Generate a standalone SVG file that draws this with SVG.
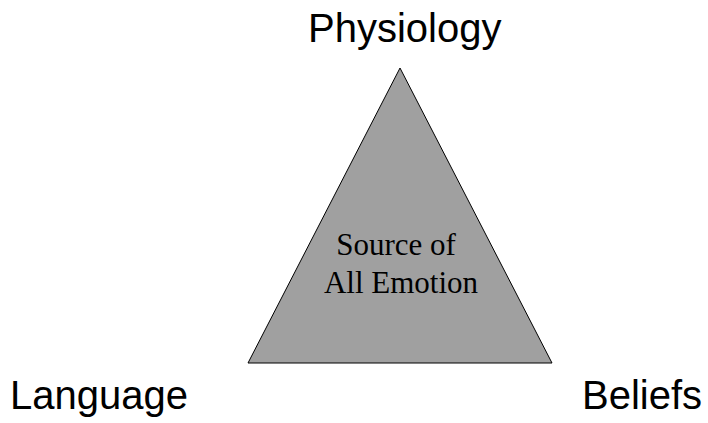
<svg xmlns="http://www.w3.org/2000/svg" width="708" height="423" viewBox="0 0 708 423">
<style>
.lbl{font-family:"Liberation Sans",Arial,sans-serif;font-size:40px;fill:#000}
.inner{font-family:"Liberation Serif","Times New Roman",serif;font-size:31px;fill:#000;text-anchor:middle}
</style>
<rect width="708" height="423" fill="#fff"/>
<g id="source">
<polygon points="400,68 248,363 552,363" fill="#a0a0a0" stroke="#000" stroke-width="1"/>
<text class="inner" x="396" y="255">Source of</text>
<text class="inner" x="401" y="293">All Emotion</text>
</g>
<g id="physiology"><text class="lbl" x="308" y="42">Physiology</text></g>
<g id="language"><text class="lbl" x="10" y="409">Language</text></g>
<g id="beliefs"><text class="lbl" x="582" y="409">Beliefs</text></g>
<g id="connectors"></g>
</svg>
